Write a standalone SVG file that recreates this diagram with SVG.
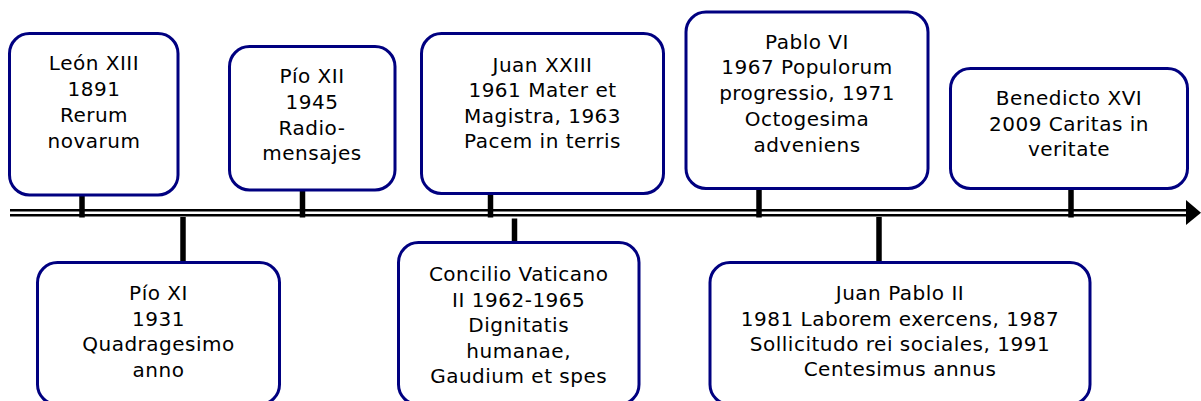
<svg xmlns="http://www.w3.org/2000/svg" width="1201" height="401" viewBox="0 0 1201 401">
  <style>
    .box { fill: #ffffff; stroke: #000080; stroke-width: 3; }
    .lbl { font-family: "DejaVu Sans", Verdana, sans-serif; font-size: 20px; letter-spacing: 0.5px; fill: #000000; text-anchor: middle; }
    .tick { stroke: #000000; stroke-width: 5.5; }
    .rail { stroke: #000000; stroke-width: 2.6; fill: none; }
  </style>
  <rect width="1201" height="401" fill="#ffffff"/>
  <g id="connectors">
    <line class="rail" x1="10" y1="210.3" x2="1188" y2="210.3"/>
    <line class="rail" x1="10" y1="215.3" x2="1188" y2="215.3"/>
    <polygon points="1186,200 1201,212.8 1186,225" fill="#000000"/>
    <line class="tick" x1="82" y1="195" x2="82" y2="217.5"/>
    <line class="tick" x1="302.5" y1="190" x2="302.5" y2="217.5"/>
    <line class="tick" x1="490.5" y1="193" x2="490.5" y2="217.5"/>
    <line class="tick" x1="759" y1="188" x2="759" y2="217.5"/>
    <line class="tick" x1="1071" y1="188" x2="1071" y2="217.5"/>
    <line class="tick" x1="183" y1="217" x2="183" y2="262"/>
    <line class="tick" x1="514.5" y1="218.5" x2="514.5" y2="242"/>
    <line class="tick" x1="879" y1="217" x2="879" y2="262"/>
  </g>
  <g id="leon-xiii">
    <rect class="box" x="9.5" y="33.5" width="168.5" height="161.5" rx="20"/>
    <text class="lbl"><tspan x="94" y="70">León XIII</tspan><tspan x="94" y="96">1891</tspan><tspan x="94" y="122">Rerum</tspan><tspan x="94" y="148">novarum</tspan></text>
  </g>
  <g id="pio-xii">
    <rect class="box" x="229.5" y="46.5" width="165.5" height="143.5" rx="20"/>
    <text class="lbl"><tspan x="312" y="83">Pío XII</tspan><tspan x="312" y="109">1945</tspan><tspan x="312" y="135">Radio-</tspan><tspan x="312" y="160">mensajes</tspan></text>
  </g>
  <g id="juan-xxiii">
    <rect class="box" x="421.5" y="33.5" width="242" height="160" rx="20"/>
    <text class="lbl"><tspan x="542.5" y="71.5">Juan XXIII</tspan><tspan x="542.5" y="97">1961 Mater et</tspan><tspan x="542.5" y="122.5">Magistra, 1963</tspan><tspan x="542.5" y="148">Pacem in terris</tspan></text>
  </g>
  <g id="pablo-vi">
    <rect class="box" x="686" y="12" width="242" height="176.5" rx="20"/>
    <text class="lbl"><tspan x="807" y="48.5">Pablo VI</tspan><tspan x="807" y="74">1967 Populorum</tspan><tspan x="807" y="100">progressio, 1971</tspan><tspan x="807" y="126">Octogesima</tspan><tspan x="807" y="151.5">adveniens</tspan></text>
  </g>
  <g id="benedicto-xvi">
    <rect class="box" x="950.5" y="68.5" width="237" height="120" rx="20"/>
    <text class="lbl"><tspan x="1069" y="105">Benedicto XVI</tspan><tspan x="1069" y="130.5">2009 Caritas in</tspan><tspan x="1069" y="156">veritate</tspan></text>
  </g>
  <g id="pio-xi">
    <rect class="box" x="37.5" y="262.5" width="242" height="142" rx="20"/>
    <text class="lbl"><tspan x="158.5" y="300">Pío XI</tspan><tspan x="158.5" y="325.5">1931</tspan><tspan x="158.5" y="351">Quadragesimo</tspan><tspan x="158.5" y="376.5">anno</tspan></text>
  </g>
  <g id="concilio-vaticano-ii">
    <rect class="box" x="398.5" y="242.5" width="240.5" height="162" rx="20"/>
    <text class="lbl"><tspan x="518.7" y="281">Concilio Vaticano</tspan><tspan x="518.7" y="306.5">II 1962-1965</tspan><tspan x="518.7" y="332">Dignitatis</tspan><tspan x="518.7" y="357.5">humanae,</tspan><tspan x="518.7" y="383">Gaudium et spes</tspan></text>
  </g>
  <g id="juan-pablo-ii">
    <rect class="box" x="710" y="262.5" width="380" height="142" rx="20"/>
    <text class="lbl"><tspan x="900" y="300">Juan Pablo II</tspan><tspan x="900" y="325.5">1981 Laborem exercens, 1987</tspan><tspan x="900" y="351">Sollicitudo rei sociales, 1991</tspan><tspan x="900" y="376">Centesimus annus</tspan></text>
  </g>
</svg>
